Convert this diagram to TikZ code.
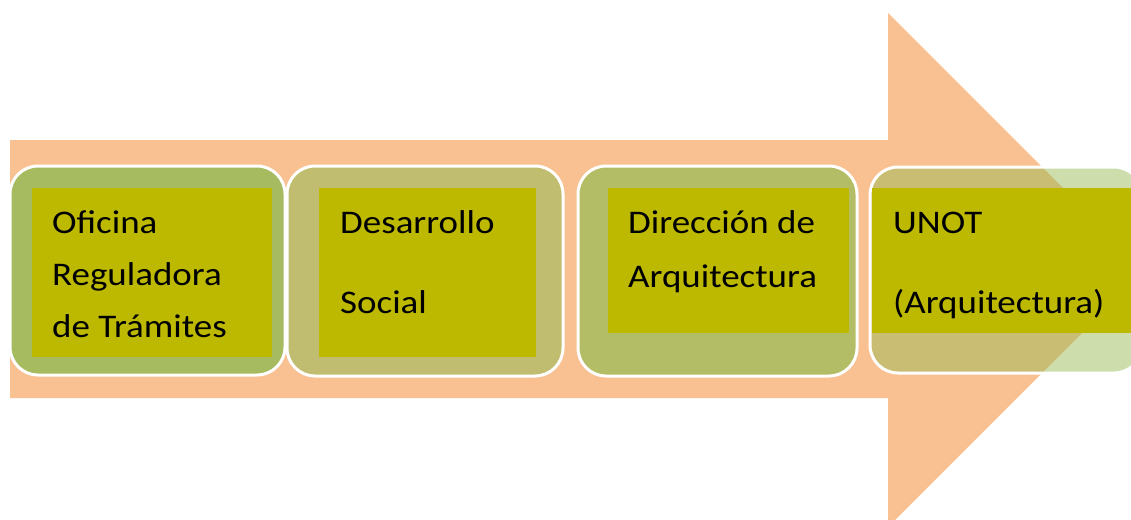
\documentclass[tikz,border=0pt]{standalone}
\usepackage{fontspec}
\setmainfont{Carlito}[FakeStretch=1.12]
\definecolor{arrowfill}{RGB}{249,192,145}
\definecolor{innerfill}{RGB}{189,184,0}
\definecolor{boxone}{RGB}{166,186,96}
\definecolor{boxtwo}{RGB}{193,189,112}
\definecolor{boxthree}{RGB}{179,189,102}
\definecolor{boxfour}{RGB}{155,187,89}

\begin{document}
\begin{tikzpicture}[x=1pt, y=-1pt,
    outerbox/.style={draw=white, line width=3pt, rounded corners=28pt},
    innerbox/.style={fill=innerfill},
    steptext/.style={anchor=base west, inner sep=0pt, font=\fontsize{33}{40}\selectfont}]
    \useasboundingbox (0,0) rectangle (1131,519);
    \clip (0,0) rectangle (1131,519);
    % big arrow
    \fill[arrowfill] (10,140) -- (888,140) -- (888,13) -- (1145,270)
        -- (888,527) -- (888,398) -- (10,398) -- cycle;
    % rounded boxes
    \draw[outerbox, fill=boxone] (10,166) rectangle (285,375);
    \draw[outerbox, fill=boxtwo] (287,166) rectangle (563,376);
    \draw[outerbox, fill=boxthree] (578,166) rectangle (857,376);
    \draw[outerbox, fill=boxfour, fill opacity=0.5] (870,167) rectangle (1142,373);
    % inner boxes
    \fill[innerbox] (32,188) rectangle (272,357);
    \fill[innerbox] (319,188) rectangle (536,357);
    \fill[innerbox] (608,188) rectangle (849,333);
    \fill[innerbox] (872,188) rectangle (1131,333);
    % labels
    \node[steptext] (ofi1) at (52,233){Oficina};
    \node[steptext] (ofi2) at (52,285){Reguladora};
    \node[steptext] (ofi3) at (52,337){de Trámites};
    \node[steptext] (des1) at (340,233){Desarrollo};
    \node[steptext] (des2) at (340,313){Social};
    \node[steptext] (dir1) at (628,233){Dirección de};
    \node[steptext] (dir2) at (628,287){Arquitectura};
    \node[steptext] (uno1) at (893,233){UNOT};
    \node[steptext] (uno2) at (893,313){(Arquitectura)};
\end{tikzpicture}
\end{document}
